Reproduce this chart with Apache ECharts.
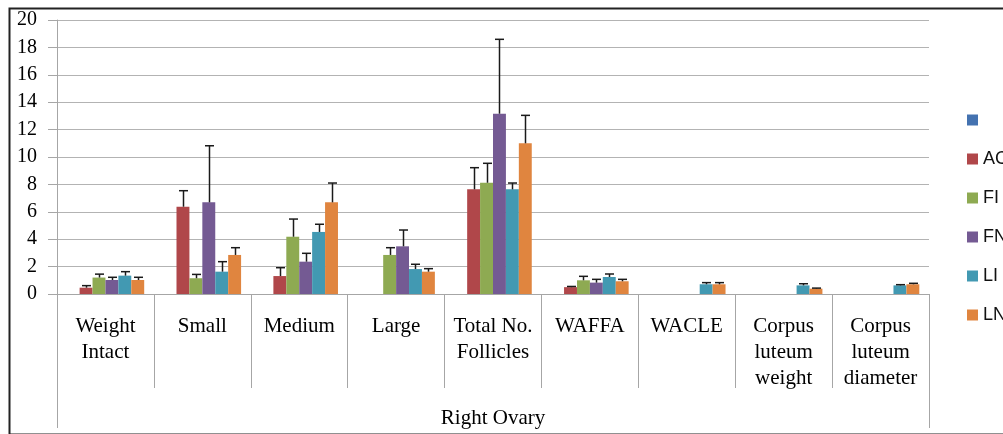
<!DOCTYPE html>
<html>
<head>
<meta charset="utf-8">
<script src="https://cdn.jsdelivr.net/npm/echarts@6/dist/echarts.min.js"></script>
<style>
  html, body { margin: 0; padding: 0; background: #fff; }
  #chart { width: 1003px; height: 434px; }
</style>
</head>
<body>
<div id="chart"></div>
<script>
// Ovary measurements by treatment group: means with upper error bars.
const categories = ['Weight\nIntact', 'Small', 'Medium', 'Large', 'Total No.\nFollicles',
  'WAFFA', 'WACLE', 'Corpus\nluteum\nweight', 'Corpus\nluteum\ndiameter'];
const groupLabel = ['Right Ovary'];
const seriesNames = [' ', 'AC', 'FI', 'FN', 'LI', 'LN'];
const yTicks = { min: 0, max: 20, interval: 2 };

const blankMean = [null, null, null, null, null, null, null, null, null];
const blankErr  = [null, null, null, null, null, null, null, null, null];
const acMean = [0.46, 6.37, 1.31, null, 7.64, 0.50, null, null, null];
const acErr  = [0.15, 1.17, 0.61, null, 1.58, 0.05, null, null, null];
const fiMean = [1.20, 1.15, 4.18, 2.85, 8.12, 1.00, null, null, null];
const fiErr  = [0.25, 0.28, 1.29, 0.53, 1.42, 0.29, null, null, null];
const fnMean = [1.02, 6.69, 2.36, 3.48, 13.16, 0.83, null, null, null];
const fnErr  = [0.20, 4.13, 0.61, 1.19, 5.43, 0.24, null, null, null];
const liMean = [1.34, 1.63, 4.53, 1.82, 7.64, 1.24, 0.71, 0.63, 0.63];
const liErr  = [0.29, 0.73, 0.56, 0.35, 0.46, 0.22, 0.12, 0.12, 0.05];
const lnMean = [1.02, 2.85, 6.69, 1.63, 11.00, 0.93, 0.71, 0.39, 0.71];
const lnErr  = [0.20, 0.53, 1.41, 0.22, 2.04, 0.14, 0.12, 0.04, 0.07];

const means = [blankMean, acMean, fiMean, fnMean, liMean, lnMean];
const errs  = [blankErr, acErr, fiErr, fnErr, liErr, lnErr];
const colors = ['#4472B0', '#B0474A', '#8EAA52', '#745A93', '#4299B2', '#E0853F'];

const CAT_GAP = 0.2;              // share of each category left empty around the bars
const nSeries = seriesNames.length;

function errorBarRenderer(seriesIdx) {
  return function (params, api) {
    const idx = api.value(0);
    const base = api.coord([idx, api.value(1)]);
    const top = api.coord([idx, api.value(2)]);
    const catW = api.size([1, 0])[0];
    const bw = catW * (1 - CAT_GAP) / nSeries;
    const x = Math.round(base[0] - catW * (1 - CAT_GAP) / 2 + (seriesIdx + 0.5) * bw) + 0.5;
    const half = 4.5;
    const style = { stroke: '#1a1a1a', lineWidth: 1.5 };
    return {
      type: 'group',
      children: [
        { type: 'line', shape: { x1: x, y1: base[1], x2: x, y2: top[1] }, style },
        { type: 'line', shape: { x1: x - half, y1: top[1], x2: x + half, y2: top[1] }, style }
      ]
    };
  };
}

const series = [];
seriesNames.forEach((name, s) => {
  series.push({
    name: name,
    type: 'bar',
    xAxisIndex: 0,
    barGap: '0%',
    barCategoryGap: (CAT_GAP * 100) + '%',
    itemStyle: { color: colors[s] },
    data: means[s]
  });
});
seriesNames.forEach((name, s) => {
  const pts = [];
  means[s].forEach((m, i) => {
    if (m != null && errs[s][i] != null) pts.push([i, m, m + errs[s][i]]);
  });
  if (!pts.length) return;
  series.push({
    name: name + ' error',
    type: 'custom',
    xAxisIndex: 0,
    z: 5,
    encode: { x: 0, y: [1, 2] },
    renderItem: errorBarRenderer(s),
    data: pts
  });
});

const serif = '"Liberation Serif", "Times New Roman", serif';
const axisGray = '#a6a6a6';

const chart = echarts.init(document.getElementById('chart'), null, { renderer: 'canvas' });
chart.setOption({
  animation: false,
  backgroundColor: '#fff',
  grid: { left: 57, right: 74, top: 20, bottom: 140, containLabel: false },
  legend: {
    data: seriesNames,
    orient: 'vertical',
    left: 962,
    top: 105,
    icon: 'rect',
    itemWidth: 11,
    itemHeight: 11,
    itemGap: 19,
    selectedMode: false,
    textStyle: { fontFamily: '"Liberation Sans", Arial, sans-serif', fontSize: 18, lineHeight: 20, color: '#111' }
  },
  xAxis: [
    {
      type: 'category',
      data: categories,
      position: 'bottom',
      axisLine: { show: true, lineStyle: { color: axisGray, width: 1 } },
      axisTick: { show: true, interval: 0, length: 94, lineStyle: { color: axisGray } },
      axisLabel: { interval: 0, margin: 19, fontFamily: serif, fontSize: 21, lineHeight: 26, color: '#000' },
      splitLine: { show: false }
    },
    {
      type: 'category',
      data: groupLabel,
      position: 'bottom',
      axisLine: { show: false },
      axisTick: { show: true, interval: 0, length: 134, lineStyle: { color: axisGray } },
      axisLabel: { interval: 0, margin: 114, fontFamily: serif, fontSize: 21, color: '#000' },
      splitLine: { show: false }
    }
  ],
  yAxis: {
    type: 'value',
    min: yTicks.min,
    max: yTicks.max,
    interval: yTicks.interval,
    axisLine: { show: true, lineStyle: { color: axisGray } },
    axisTick: { show: true, length: 9, lineStyle: { color: axisGray } },
    axisLabel: { margin: 20, fontFamily: serif, fontSize: 20, color: '#000' },
    splitLine: { show: true, lineStyle: { color: '#b3b3b3', width: 1 } }
  },
  graphic: [
    {
      type: 'rect',
      left: 7, top: 6,
      shape: { width: 1010, height: 426 },
      style: { fill: 'none', stroke: '#222', lineWidth: 2 },
      silent: true
    }
  ],
  series: series
});
</script>
</body>
</html>
